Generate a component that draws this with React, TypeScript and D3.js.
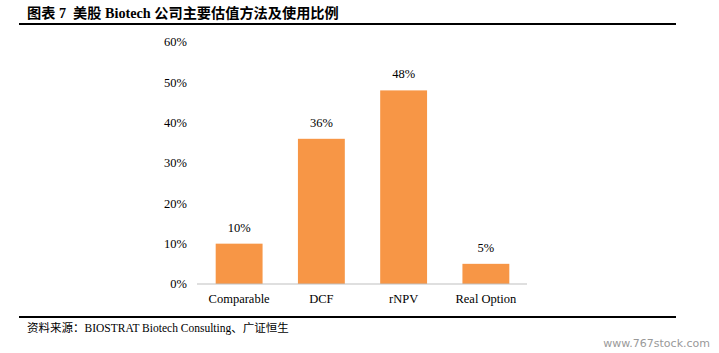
import React from "react";
import * as d3 from "d3";

const categories = ["Comparable", "DCF", "rNPV", "Real Option"];
const values = [0.10, 0.36, 0.48, 0.05];
const yTicks = [0, 0.1, 0.2, 0.3, 0.4, 0.5, 0.6];
const title = "图表 7  美股 Biotech 公司主要估值方法及使用比例";
const source = "资料来源：BIOSTRAT Biotech Consulting、广证恒生";
const watermark = "www.767stock.com";

export default function App() {
  const W = 719, H = 353;
  const x = d3.scaleBand<string>().domain(categories).range([198, 527]).paddingInner(0.43).paddingOuter(0.215);
  const y = d3.scaleLinear().domain([0, 0.6]).range([284, 42]);
  const fmt = d3.format(".0%");
  const serif = "'Liberation Serif', 'Times New Roman', serif";
  const mixed = "'Liberation Serif', 'Noto Sans CJK SC', serif";
  return (
    <svg width={W} height={H} style={{ position: "absolute", left: 0, top: 0, background: "#fff" }}>
      <text x={27} y={18} fontFamily={mixed} fontWeight="bold" fontSize={14.2} fill="#000" style={{ whiteSpace: "pre" }}>{title}</text>
      <line x1={19} x2={676} y1={24} y2={24} stroke="#000" strokeWidth={2} />
      {yTicks.map(t => (
        <text key={t} x={187} y={y(t)} dy="0.35em" textAnchor="end" fontFamily={serif} fontSize={12.5} fill="#000">{fmt(t)}</text>
      ))}
      {categories.map((c, i) => (
        <g key={c}>
          <rect x={x(c)} y={y(values[i])} width={x.bandwidth()} height={y(0) - y(values[i])} fill="#F79646" />
          <text x={(x(c) as number) + x.bandwidth() / 2} y={y(values[i]) - 12} textAnchor="middle" fontFamily={serif} fontSize={12.5} fill="#000">{fmt(values[i])}</text>
          <text x={(x(c) as number) + x.bandwidth() / 2} y={303} textAnchor="middle" fontFamily={serif} fontSize={12.5} fill="#000">{c}</text>
        </g>
      ))}
      <line x1={197} x2={527} y1={y(0)} y2={y(0)} stroke="#bfbfbf" strokeWidth={1} />
      <line x1={19} x2={676} y1={317} y2={317} stroke="#000" strokeWidth={2} />
      <text x={27} y={332} fontFamily={mixed} fontSize={11.5} fill="#000">{source}</text>
      <text x={710} y={347} textAnchor="end" fontFamily="'DejaVu Sans', sans-serif" fontSize={11} fill="#999">{watermark}</text>
    </svg>
  );
}
